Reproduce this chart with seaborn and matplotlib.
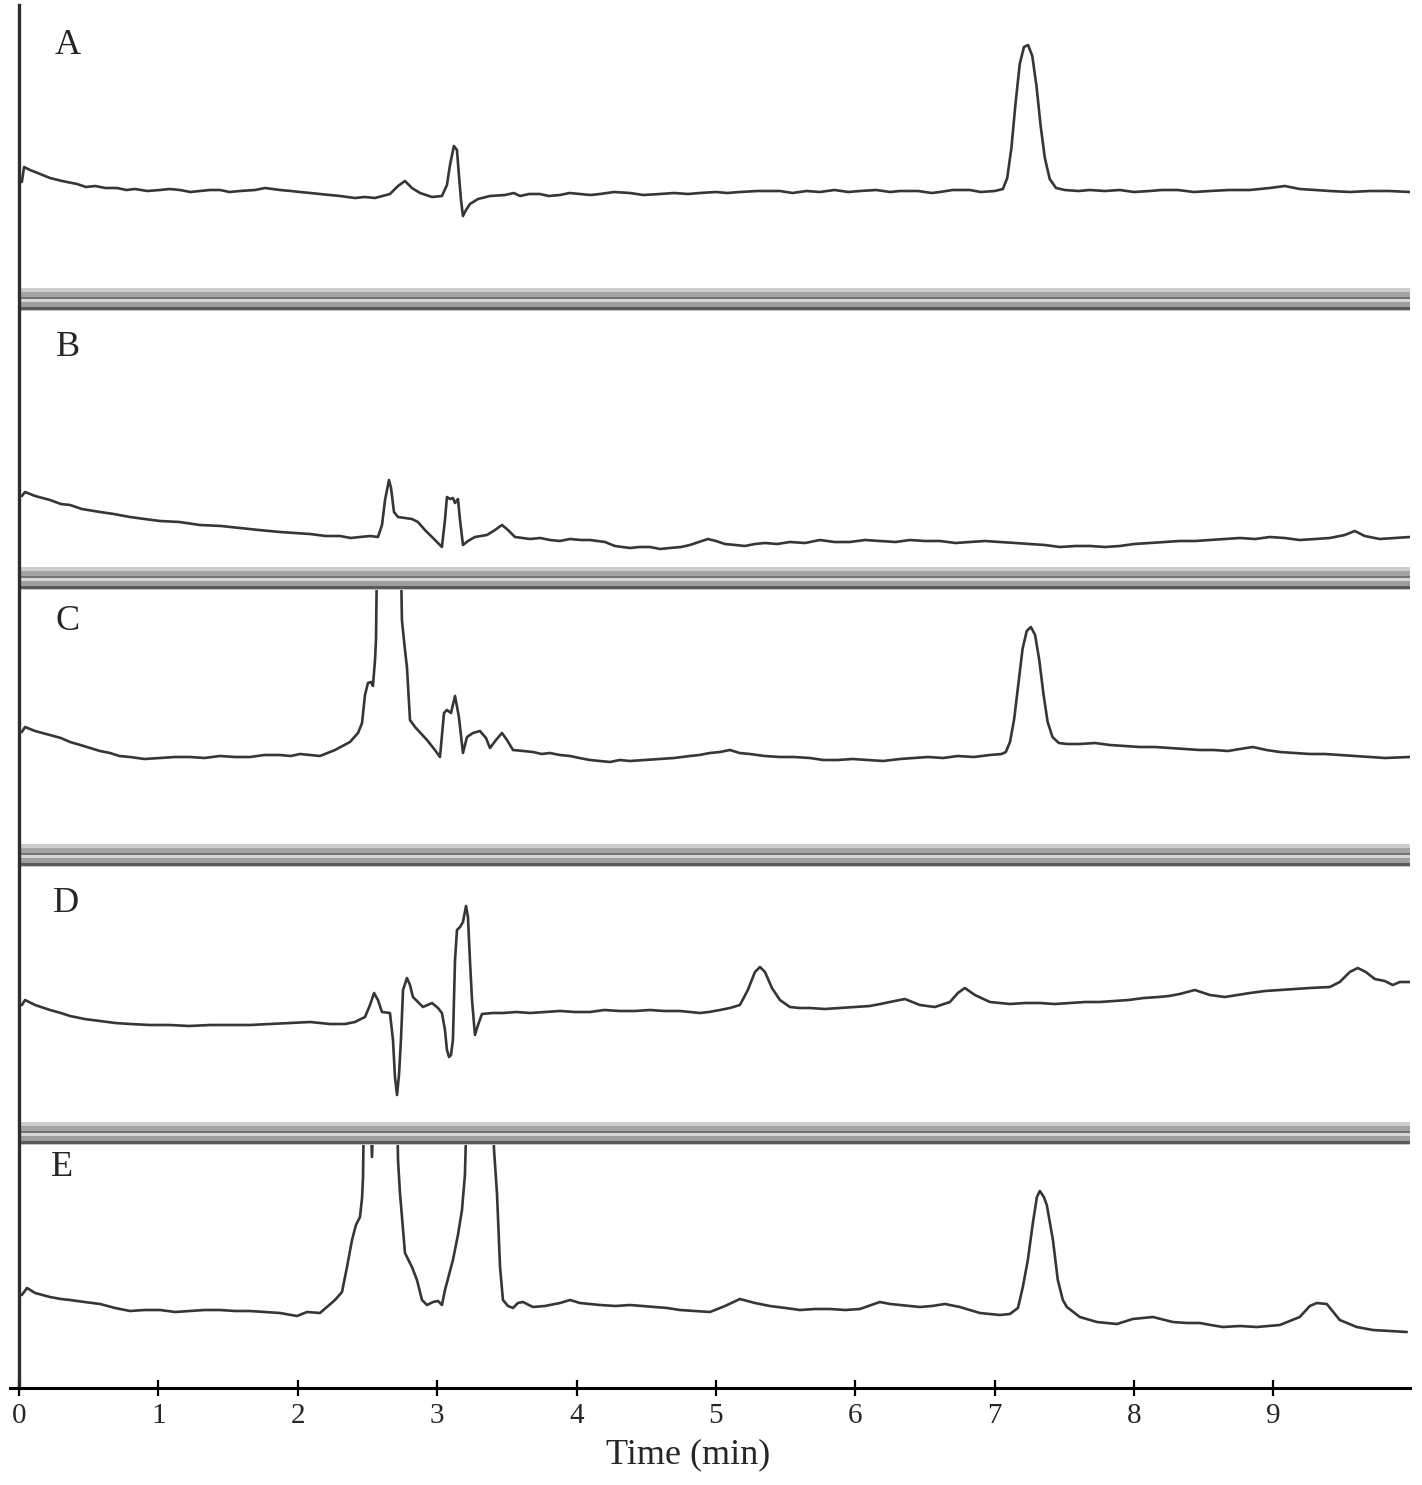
import matplotlib
matplotlib.use("Agg")
import matplotlib.pyplot as plt
import seaborn as sns
import pandas as pd

# Retention time (min) and detector response (a.u.)
time_a = [0.02, 0.036, 0.079, 0.151, 0.222, 0.308, 0.416, 0.48, 0.545, 0.62, 0.703, 0.77, 0.832, 0.92,
          1.011, 1.08, 1.155, 1.23, 1.298, 1.37, 1.442, 1.51, 1.585, 1.693, 1.765, 1.872, 1.95, 2.016,
          2.09, 2.159, 2.23, 2.303, 2.41, 2.48, 2.554, 2.661, 2.719, 2.769, 2.819, 2.877, 2.963,
          3.034, 3.07, 3.092, 3.12, 3.142, 3.156, 3.171, 3.185, 3.207, 3.235, 3.293, 3.379, 3.486,
          3.55, 3.594, 3.66, 3.737, 3.8, 3.881, 3.95, 4.024, 4.1, 4.168, 4.27, 4.383, 4.48, 4.598,
          4.7, 4.8, 4.885, 5.0, 5.08, 5.172, 5.3, 5.459, 5.55, 5.65, 5.746, 5.85, 5.95, 6.033,
          6.15, 6.25, 6.32, 6.45, 6.55, 6.607, 6.7, 6.822, 6.9, 7.001,
          7.059, 7.09, 7.12, 7.15, 7.18, 7.21, 7.24, 7.27, 7.30, 7.33, 7.36, 7.395, 7.44, 7.503,
          7.6, 7.683, 7.79, 7.898, 8.0, 8.113, 8.2, 8.314, 8.43, 8.544, 8.68, 8.831, 8.974, 9.082,
          9.189, 9.3, 9.405, 9.55, 9.692, 9.83, 9.978]
resp_a = [106, 121, 118, 114, 110, 107, 104, 101, 102, 100, 100, 98, 99, 97,
          98, 99, 98, 96, 97, 98, 98, 96, 97, 98, 100, 98, 97, 96,
          95, 94, 93, 92, 90, 91, 90, 94, 102, 107, 100, 95, 91,
          92, 103, 123, 142, 138, 113, 88, 72, 78, 84, 89, 92, 93,
          95, 92, 94, 94, 92, 93, 95, 94, 93, 94, 96, 95, 93, 94,
          95, 94, 95, 96, 95, 96, 97, 97, 95, 97, 96, 98, 96, 97,
          98, 96, 97, 97, 95, 96, 98, 98, 96, 97,
          99, 110, 140, 185, 224, 241, 243, 232, 202, 162, 130, 109, 100, 98,
          97, 98, 97, 98, 96, 97, 98, 98, 96, 97, 98, 98, 100, 102,
          99, 98, 97, 96, 97, 97, 96]

time_b = [0.02, 0.043, 0.115, 0.222, 0.3, 0.366, 0.45, 0.581, 0.68, 0.796, 0.9, 1.011, 1.15, 1.298,
          1.45, 1.585, 1.72, 1.872, 1.98, 2.088, 2.2, 2.303, 2.38, 2.446, 2.52, 2.575,
          2.604, 2.626, 2.654, 2.669, 2.69, 2.719, 2.769, 2.819, 2.862, 2.912, 2.97, 3.034, 3.056,
          3.07, 3.092, 3.113, 3.128, 3.149, 3.164, 3.185, 3.221, 3.271, 3.357, 3.415, 3.465, 3.508, 3.558,
          3.666, 3.74, 3.809, 3.88, 3.953, 4.03, 4.096, 4.204, 4.275, 4.383, 4.45, 4.527, 4.6, 4.67,
          4.75, 4.813, 4.943, 5.0, 5.065, 5.14, 5.208, 5.28, 5.352, 5.44, 5.531, 5.64, 5.746, 5.85,
          5.961, 6.07, 6.176, 6.29, 6.392, 6.5, 6.607, 6.72, 6.822, 6.93, 7.037, 7.15, 7.252, 7.36,
          7.468, 7.58, 7.683, 7.79, 7.898, 8.0, 8.113, 8.22, 8.328, 8.44, 8.544, 8.65, 8.759, 8.87,
          8.974, 9.08, 9.189, 9.3, 9.405, 9.512, 9.584, 9.655, 9.763, 9.871, 9.978]
resp_b = [71, 75, 71, 67, 63, 62, 58, 55, 53, 50, 48, 46, 45, 42,
          41, 39, 37, 35, 34, 33, 31, 31, 29, 30, 31, 30,
          42, 67, 87, 79, 55, 50, 49, 48, 45, 37, 29, 20, 47,
          70, 68, 69, 64, 68, 47, 22, 26, 30, 32, 37, 42, 37, 30,
          28, 29, 27, 26, 28, 27, 27, 25, 21, 19, 20, 20, 18, 19,
          20, 22, 28, 26, 23, 22, 21, 23, 24, 23, 25, 24, 27, 25,
          25, 27, 26, 25, 27, 26, 26, 24, 25, 26, 25, 24, 23, 22,
          20, 21, 21, 20, 21, 23, 24, 25, 26, 26, 27, 28, 29, 28,
          30, 29, 27, 28, 29, 32, 36, 31, 28, 29, 30]

time_c = [0.02, 0.043, 0.115, 0.222, 0.3, 0.366, 0.44, 0.509, 0.58, 0.653, 0.72, 0.796, 0.9, 1.011,
          1.12, 1.227, 1.33, 1.442, 1.55, 1.657, 1.76, 1.872, 1.95, 2.016, 2.09, 2.159,
          2.267, 2.374, 2.432, 2.461, 2.482, 2.503, 2.525, 2.539, 2.554, 2.561, 2.568, 2.74, 2.747,
          2.769, 2.783, 2.805, 2.841, 2.927, 2.984, 3.02, 3.049, 3.07, 3.099, 3.128, 3.156, 3.185, 3.214,
          3.257, 3.307, 3.35, 3.379, 3.422, 3.465, 3.501, 3.544,
          3.62, 3.687, 3.75, 3.809, 3.88, 3.953, 4.02, 4.096, 4.17, 4.24, 4.31, 4.383, 4.49, 4.598,
          4.7, 4.813, 4.88, 4.957, 5.03, 5.1, 5.17, 5.244, 5.35, 5.459, 5.56, 5.674, 5.77, 5.875,
          5.98, 6.09, 6.2, 6.32, 6.42, 6.521, 6.63, 6.736, 6.85, 6.966, 7.05,
          7.08, 7.11, 7.14, 7.17, 7.2, 7.23, 7.26, 7.29, 7.32, 7.35, 7.38, 7.415, 7.46, 7.52,
          7.611, 7.72, 7.826, 7.93, 8.041, 8.15, 8.257, 8.36, 8.472, 8.57, 8.673, 8.76, 8.852, 8.95,
          9.046, 9.15, 9.261, 9.37, 9.476, 9.58, 9.692, 9.8, 9.978]
resp_c = [112, 117, 113, 109, 106, 102, 99, 96, 93, 91, 88, 87, 85, 86,
          87, 87, 86, 88, 87, 87, 89, 89, 88, 90, 89, 88,
          94, 102, 111, 121, 149, 161, 162, 158, 184, 204, 284, 284, 224,
          194, 177, 124, 117, 104, 94, 87, 131, 134, 131, 148, 127, 91, 107,
          111, 113, 106, 96, 104, 111, 104, 94,
          93, 92, 90, 91, 89, 88, 86, 84, 83, 82, 84, 83, 84, 85,
          86, 88, 89, 91, 92, 94, 91, 90, 88, 87, 87, 86, 84, 84,
          85, 84, 83, 85, 86, 87, 86, 88, 87, 89, 90,
          92, 102, 125, 160, 195, 213, 217, 209, 184, 150, 122, 107, 101, 100,
          100, 101, 99, 98, 97, 97, 96, 95, 94, 94, 93, 95, 97, 94,
          92, 91, 90, 90, 89, 88, 87, 86, 87]

time_d = [0.02, 0.043, 0.115, 0.222, 0.3, 0.366, 0.47, 0.581, 0.69, 0.796, 0.94, 1.083, 1.22, 1.37,
          1.51, 1.657, 1.8, 1.944, 2.088, 2.16, 2.231, 2.339,
          2.41, 2.482, 2.518, 2.547, 2.575, 2.604, 2.661, 2.683, 2.697, 2.712, 2.726, 2.74, 2.755, 2.783,
          2.805, 2.826, 2.898, 2.963, 3.006, 3.034, 3.056, 3.07, 3.085, 3.099, 3.113, 3.128, 3.142, 3.164,
          3.185, 3.207, 3.221, 3.235, 3.25, 3.271, 3.293, 3.321,
          3.4, 3.472, 3.57, 3.666, 3.77, 3.881, 3.99, 4.096, 4.2, 4.311, 4.42, 4.527, 4.63, 4.742,
          4.885, 4.95, 5.029, 5.1, 5.172, 5.229, 5.28, 5.316, 5.352, 5.402, 5.459, 5.531, 5.6, 5.674,
          5.78, 5.889, 6.0, 6.104, 6.18, 6.248, 6.356, 6.463, 6.571, 6.679, 6.736, 6.786, 6.858, 6.966,
          7.04, 7.109, 7.22, 7.324, 7.43, 7.539, 7.65, 7.755, 7.86, 7.96, 8.07, 8.178, 8.25, 8.328,
          8.436, 8.544, 8.652, 8.74, 8.831, 8.94, 9.046, 9.15, 9.261, 9.405, 9.476, 9.548, 9.605, 9.663,
          9.727, 9.799, 9.856, 9.907, 9.978]
resp_d = [117, 122, 117, 112, 109, 106, 103, 101, 99, 98, 97, 97, 96, 97,
          97, 97, 98, 99, 100, 99, 98, 98,
          100, 105, 117, 129, 122, 110, 109, 82, 45, 27, 47, 82, 132, 144,
          137, 125, 115, 119, 114, 109, 92, 72, 65, 67, 82, 162, 192, 195,
          200, 216, 205, 162, 122, 87, 97, 108,
          109, 109, 110, 109, 110, 111, 110, 110, 112, 111, 111, 112, 111, 111,
          109, 110, 112, 114, 117, 132, 150, 155, 150, 134, 122, 115, 114, 114,
          113, 114, 115, 116, 118, 120, 123, 117, 115, 120, 129, 134, 127, 120,
          119, 118, 119, 119, 118, 119, 120, 120, 121, 122, 124, 125, 126, 128,
          132, 127, 125, 127, 129, 131, 132, 133, 134, 135, 140, 150, 154, 150,
          143, 141, 137, 140, 140]

time_e = [0.02, 0.057, 0.115, 0.222, 0.3, 0.366, 0.47, 0.581, 0.689, 0.796, 0.9, 1.011, 1.12, 1.227,
          1.33, 1.442, 1.55, 1.657, 1.76, 1.872, 1.994, 2.066, 2.159,
          2.209, 2.267, 2.317, 2.353, 2.389, 2.417, 2.446, 2.461, 2.468, 2.475, 2.518, 2.532,
          2.547, 2.712, 2.719, 2.733, 2.769, 2.819, 2.855, 2.891, 2.927, 2.97, 3.006, 3.034, 3.056, 3.113,
          3.149, 3.178, 3.199, 3.214, 3.393, 3.408, 3.429, 3.451, 3.472, 3.508, 3.544, 3.579, 3.615, 3.687,
          3.773, 3.881, 3.953, 4.024, 4.1, 4.168, 4.28, 4.383, 4.47, 4.562, 4.65, 4.742, 4.85, 4.957,
          5.065, 5.172, 5.28, 5.387, 5.5, 5.603, 5.71, 5.818, 5.93, 6.033, 6.176, 6.25, 6.32, 6.463,
          6.55, 6.643, 6.75, 6.894, 7.037, 7.109, 7.167,
          7.202, 7.238, 7.274, 7.303, 7.324, 7.353, 7.374, 7.418, 7.453, 7.489, 7.518, 7.611,
          7.733, 7.877, 7.991, 8.135, 8.278, 8.38, 8.472, 8.55, 8.637, 8.76, 8.881, 8.96, 9.046, 9.189,
          9.261, 9.311, 9.383, 9.476, 9.598, 9.713, 9.835, 9.957]
resp_e = [93, 100, 95, 91, 89, 88, 86, 84, 80, 77, 78, 78, 76, 77,
          78, 78, 77, 77, 76, 75, 72, 76, 75,
          81, 88, 96, 121, 148, 163, 171, 190, 211, 288, 288, 231,
          288, 288, 228, 195, 135, 121, 108, 88, 83, 86, 87, 83, 98, 128,
          153, 178, 213, 288, 288, 238, 195, 121, 88, 82, 80, 85, 86, 81,
          82, 85, 88, 85, 84, 83, 82, 83, 82, 81, 80, 78, 77, 76,
          82, 89, 85, 82, 80, 78, 79, 79, 78, 79, 86, 84, 83, 81,
          82, 84, 81, 75, 73, 74, 80,
          101, 128, 165, 191, 197, 191, 183, 148, 108, 88, 81, 71,
          66, 64, 69, 71, 66, 65, 65, 63, 61, 62, 61, 62, 63, 71,
          82, 85, 84, 68, 61, 58, 57, 56]

traces = [(time_a, resp_a), (time_b, resp_b), (time_c, resp_c), (time_d, resp_d), (time_e, resp_e)]
panel_labels = ["A", "B", "C", "D", "E"]
x_ticks = [0, 1, 2, 3, 4, 5, 6, 7, 8, 9]

for t, r in traces:
    assert len(t) == len(r), (len(t), len(r))

sns.set_style("white")
plt.rcParams["font.family"] = ["Liberation Serif", "DejaVu Serif"]

W, H = 1422, 1485
fig = plt.figure(figsize=(W / 100, H / 100), dpi=100)

# layout in pixels
X0, X1 = 10, 1410
T0, T1 = -0.065, 9.98
panels = [(5, 288), (311, 567), (590, 844), (867, 1122), (1145, 1388)]
bands = [(288, 311), (567, 590), (844, 867), (1122, 1145)]
label_pos = [(68, 45), (68, 348), (68, 622), (66, 903), (62, 1167)]
stripes = [(0, 4, "#cdcdcd"), (4, 9, "#a4a4a4"), (9, 11, "#747474"), (11, 14, "#d6d6d6"),
           (14, 19, "#9e9e9e"), (19, 22, "#5a5a5a"), (22, 23, "#c4c4c4")]


def add_axes(top, bottom):
    return fig.add_axes([X0 / W, 1 - bottom / H, (X1 - X0) / W, (bottom - top) / H])


for (top, bottom), (t, r), lab, (lx, ly) in zip(panels, traces, panel_labels, label_pos):
    ax = add_axes(top, bottom)
    df = pd.DataFrame({"time": t, "response": r})
    sns.lineplot(data=df, x="time", y="response", ax=ax, color="#363636",
                 linewidth=1.9, estimator=None, sort=False)
    ax.set_xlim(T0, T1)
    ax.set_ylim(0, bottom - top)
    ax.axis("off")
    fig.text(lx / W, 1 - ly / H, lab, ha="center", va="center", fontsize=26)

# grey separator bands between chromatograms
for top, bottom in bands:
    bx = add_axes(top, bottom)
    h = bottom - top
    for s0, s1, c in stripes:
        bx.fill_between([0, T1], h - s1, h - s0, color=c, lw=0)
    bx.set_xlim(T0, T1)
    bx.set_ylim(0, h)
    bx.axis("off")

# shared time axis
frame = add_axes(5, 1388)
frame.patch.set_alpha(0)
frame.set_xlim(T0, T1)
frame.set_ylim(0, 1)
for side in ["top", "right"]:
    frame.spines[side].set_visible(False)
frame.spines["left"].set_position(("data", 0))
frame.spines["left"].set_color("#2e2e2e")
frame.spines["left"].set_linewidth(2.4)
frame.spines["bottom"].set_color("black")
frame.spines["bottom"].set_linewidth(2.2)
frame.set_yticks([])
frame.set_xticks(x_ticks)
frame.set_xticklabels([str(v) for v in x_ticks])
frame.tick_params(axis="x", bottom=True, direction="inout", length=12, width=1.6,
                  labelsize=21, pad=5, color="black")
frame.set_xlabel("")
frame.set_ylabel("")
fig.text(688 / W, 1 - 1455 / H, "Time (min)", ha="center", va="center", fontsize=26)

fig.savefig("out.png", dpi=100)
